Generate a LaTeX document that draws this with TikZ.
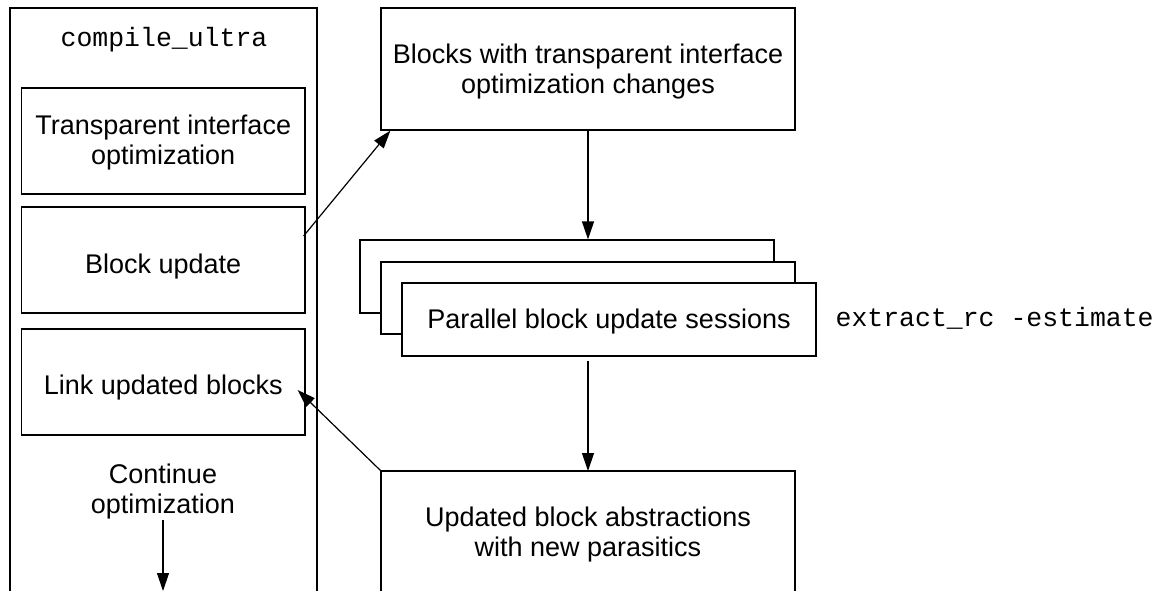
\documentclass[tikz,border=0pt]{standalone}
\usepackage{fontspec}
\setmainfont{Liberation Sans}
\setmonofont{Liberation Mono}
\usetikzlibrary{arrows.meta}
\begin{document}
\begin{tikzpicture}[x=1pt,y=-1pt,line width=1.2pt,
  txt/.style={align=center,inner sep=0pt,font=\fontsize{27}{30}\selectfont},
  box/.style={draw,fill=white,inner sep=0pt},
  mono/.style={inner sep=0pt,font=\ttfamily\fontsize{26.5}{30}\selectfont},
  arr/.style={-{Triangle[length=18pt,width=12pt]}}]
\useasboundingbox (0,0) rectangle (1164,591);
% outer compile_ultra frame (open at bottom)
\coordinate (obl) at (10,591);
\coordinate (obr) at (317,591);
\draw (obl) -- (10,8) -- (317,8) -- (obr);
\node[mono,anchor=base] (cu) at (164,47) {compile\_ultra};
\node[box,minimum width=283.5pt,minimum height=106pt] (tio) at (163.25,141) {};
\node[txt] (tiot) at (163.25,143) {Transparent interface\\optimization};
\node[box,minimum width=283.5pt,minimum height=106pt] (bu) at (163.25,260) {};
\node[txt,anchor=base] (but) at (163.25,273) {Block update};
\node[box,minimum width=283.5pt,minimum height=106pt] (lub) at (163.25,382) {};
\node[txt,anchor=base] (lubt) at (163.25,394) {Link updated blocks};
\node[txt] (co) at (163,492) {Continue\\optimization};
\coordinate (costart) at (163,520);
\coordinate (coend) at (163,591);
\draw[arr] (costart) -- (coend);
% top right box
\node[box,minimum width=414pt,minimum height=122pt] (top) at (588,69) {};
\node[txt] (topt) at (588,72) {Blocks with transparent interface\\optimization changes};
% stacked boxes
\node[box,minimum width=414pt,minimum height=73pt] (s1) at (567,276.5) {};
\node[box,minimum width=414pt,minimum height=72pt] (s2) at (588,298) {};
\node[box,minimum width=414pt,minimum height=73pt] (s3) at (609,319.5) {};
\node[txt,anchor=base] (s3t) at (609,328) {Parallel block update sessions};
\node[mono,anchor=base west] (erc) at (835,326) {extract\_rc -estimate};
% bottom open box
\coordinate (bbl) at (381,591);
\coordinate (bbr) at (795,591);
\coordinate (bnw) at (381,471);
\coordinate (bne) at (795,471);
\draw (bbl) -- (bnw) -- (bne) -- (bbr);
\node[txt] (uba) at (588,535) {Updated block abstractions\\with new parasitics};
% connectors
\draw[arr] ([xshift=-2pt,yshift=24pt]bu.east) -- ([xshift=10pt]top.south west);
\draw[arr] (top.south) -- (s1.north -| top.south);
\draw[arr] ([yshift=-4pt]s3.south -| top.south) -- (bnw -| top.south);
\draw[arr] (bnw) -- ([xshift=-8pt,yshift=-8pt]lub.east);
\end{tikzpicture}
\end{document}
